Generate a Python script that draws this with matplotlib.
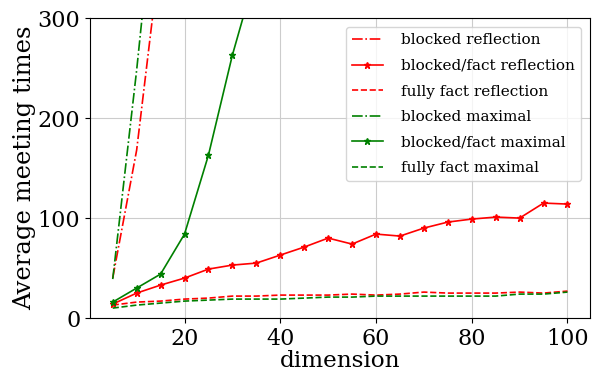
import matplotlib
matplotlib.use('Agg')
import matplotlib.pyplot as plt
import numpy as np

plt.rcParams['font.family'] = ['DejaVu Serif']

dims = np.arange(5, 105, 5)

# blocked (dash-dot), shoots off the top quickly
blocked_refl = [40, 168, 368, 560, 760, 980, 1210, 1450, 1700, 1960,
                2230, 2510, 2800, 3100, 3410, 3730, 4060, 4400, 4750, 5110]
blocked_max = [39, 248, 480, 720, 970, 1230, 1500, 1780, 2070, 2370,
               2680, 3000, 3330, 3670, 4020, 4380, 4750, 5130, 5520, 5920]

# blocked/fact (solid with stars)
bf_refl = [14, 25, 33, 40, 49, 53, 55, 63, 71, 80,
           74, 84, 82, 90, 96, 99, 101, 100, 115, 114]
bf_max = [16, 30, 44, 84, 163, 263, 347, 450, 570, 700,
          850, 1010, 1190, 1380, 1590, 1810, 2050, 2300, 2570, 2860]

# fully fact (dashed)
ff_refl = [13, 16, 17, 19, 20, 22, 22, 23, 23, 23,
           24, 23, 24, 26, 25, 25, 25, 26, 25, 27]
ff_max = [10, 13, 15, 17, 18, 19, 19, 19, 20, 21,
          21, 22, 22, 22, 22, 22, 22, 24, 24, 26]

fig, ax = plt.subplots(figsize=(5.92, 3.76), dpi=100)
fig.subplots_adjust(left=0.152, right=0.997, top=0.952, bottom=0.154)

lw = 1.2
ax.plot(dims, blocked_refl, 'r-.', lw=lw, label='blocked reflection')
ax.plot(dims, bf_refl, 'r*-', lw=lw, markersize=5, label='blocked/fact reflection')
ax.plot(dims, ff_refl, 'r--', lw=lw, label='fully fact reflection')
ax.plot(dims, blocked_max, 'g-.', lw=lw, label='blocked maximal')
ax.plot(dims, bf_max, 'g*-', lw=lw, markersize=5, label='blocked/fact maximal')
ax.plot(dims, ff_max, 'g--', lw=lw, label='fully fact maximal')

ax.set_ylim(0, 300)
ax.set_xticks([20, 40, 60, 80, 100])
ax.set_yticks([0, 100, 200, 300])
ax.tick_params(labelsize=16)
ax.grid(True, color='#cccccc')
ax.set_xlabel('dimension', fontsize=16.7, labelpad=0)
ax.set_ylabel('Average meeting times', fontsize=17.5, labelpad=1)
ax.legend(loc='upper right', fontsize=11, labelspacing=0.76,
          handletextpad=1.2, borderaxespad=0.6)

fig.savefig('out.png', dpi=100)
